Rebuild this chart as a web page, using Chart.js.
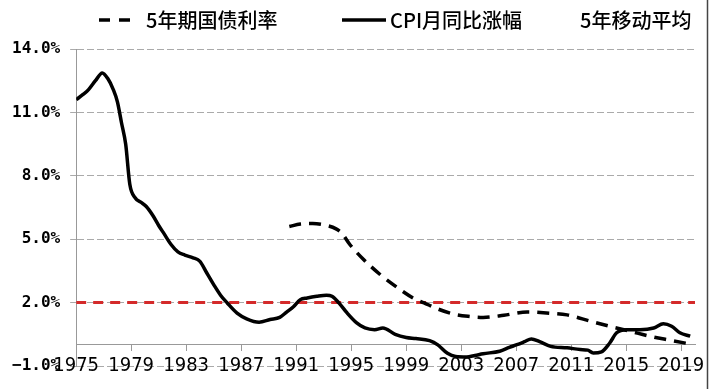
<!DOCTYPE html>
<html lang="zh-CN">
<head>
<meta charset="UTF-8">
<title>CPI与5年期国债利率</title>
<script src="https://cdn.jsdelivr.net/npm/chart.js"></script>
<style>
    body { margin: 0; background: #fff; }
    #wrap { width: 716px; height: 389px; }
</style>
</head>
<body>
<div id="wrap"><canvas id="chart" width="716" height="389"></canvas></div>
<script>
    // 坐标轴刻度
    const xTicks = [1975, 1979, 1983, 1987, 1991, 1995, 1999, 2003, 2007, 2011, 2015, 2019];
    const yTicks = [-1, 2, 5, 8, 11, 14];

    // CPI月同比涨幅 (5年移动平均)
    const cpiYears = [1975.0, 1975.5, 1975.9, 1976.4, 1976.9, 1977.3, 1977.7, 1978.0, 1978.3, 1978.6,
        1978.9, 1979.3, 1979.7, 1980.1, 1980.6, 1981.0, 1981.4, 1981.9, 1982.4, 1982.9,
        1983.5, 1984.0, 1984.5, 1985.0, 1985.5, 1986.0, 1986.7, 1987.4, 1988.3, 1989.1,
        1989.8, 1990.3, 1990.8, 1991.3, 1991.8, 1992.5, 1993.2, 1993.6, 1994.1, 1994.7,
        1995.4, 1996.0, 1996.7, 1997.3, 1998.2, 1999.0, 1999.7, 2000.7, 2001.3, 2002.0,
        2002.6, 2003.4, 2004.0, 2004.6, 2005.8, 2006.5, 2007.05, 2007.6, 2008.1, 2008.7,
        2009.5, 2010.7, 2011.65, 2012.2, 2012.6, 2013.2, 2013.8, 2014.3, 2015.0, 2016.0,
        2017.0, 2017.7, 2018.3, 2018.9, 2019.65];
    const cpiValues = [11.6, 11.85, 12.08, 12.5, 12.87, 12.6, 12.08, 11.5, 10.5, 9.5,
        7.6, 6.95, 6.75, 6.55, 6.1, 5.65, 5.25, 4.75, 4.4, 4.25,
        4.12, 3.95, 3.4, 2.85, 2.35, 1.97, 1.5, 1.23, 1.07, 1.2,
        1.3, 1.55, 1.8, 2.14, 2.22, 2.3, 2.35, 2.3, 1.99, 1.51,
        1.04, 0.8, 0.72, 0.8, 0.5, 0.35, 0.3, 0.2, 0.0, -0.4,
        -0.55, -0.57, -0.5, -0.42, -0.3, -0.12, 0.01, 0.15, 0.28, 0.15,
        -0.07, -0.14, -0.22, -0.25, -0.38, -0.33, 0.09, 0.57, 0.72, 0.72,
        0.8, 1.0, 0.88, 0.57, 0.41];

    // 5年期国债利率 (5年移动平均)
    const bondYears = [1990.5, 1991.3, 1992.2, 1993.2, 1993.9, 1994.3, 1994.9, 1995.9, 1997.1, 1998.3,
        1999.5, 2000.3, 2001.3, 2002.5, 2003.5, 2004.6, 2006.1, 2007.8, 2009.2, 2010.7,
        2012.4, 2013.8, 2015.3, 2016.7, 2018.2, 2019.9];
    const bondValues = [5.6, 5.72, 5.74, 5.65, 5.49, 5.3, 4.75, 4.04, 3.33, 2.74,
        2.22, 1.99, 1.7, 1.45, 1.35, 1.3, 1.4, 1.56, 1.51, 1.42,
        1.12, 0.88, 0.64, 0.41, 0.22, 0.01];

    const targetRate = 2.0;
    const xMin = 1975, xMax = 2020;
    const legendNames = ['5年期国债利率', 'CPI月同比涨幅', '5年移动平均'];

    const toPoints = (xs, ys) => xs.map((x, i) => ({ x: x, y: ys[i] }));

    // 顶部图例 + 右侧边框
    const topLegend = {
        id: 'topLegend',
        afterDraw(chart) {
            const ctx = chart.ctx;
            ctx.save();
            ctx.strokeStyle = '#000';
            ctx.lineWidth = 3.5;
            ctx.setLineDash([11, 9]);
            ctx.beginPath(); ctx.moveTo(99, 20); ctx.lineTo(134, 20); ctx.stroke();
            ctx.setLineDash([]);
            ctx.beginPath(); ctx.moveTo(342, 20); ctx.lineTo(386, 20); ctx.stroke();

            ctx.fillStyle = '#000';
            ctx.font = '500 20px "Noto Sans CJK SC"';
            ctx.textBaseline = 'middle';
            ctx.fillText(legendNames[0], 146, 20);
            ctx.fillText(legendNames[1], 390, 20);
            ctx.fillText(legendNames[2], 580, 20);

            ctx.strokeStyle = '#444';
            ctx.lineWidth = 1.5;
            ctx.beginPath(); ctx.moveTo(707.5, 0); ctx.lineTo(707.5, 389); ctx.stroke();
            ctx.restore();
        }
    };

    new Chart(document.getElementById('chart'), {
        type: 'line',
        data: {
            datasets: [{
                label: legendNames[0],
                data: toPoints(bondYears, bondValues),
                borderColor: '#000',
                borderWidth: 3.5,
                borderDash: [12, 8],
                cubicInterpolationMode: 'monotone',
                pointRadius: 0,
                order: 1
            }, {
                label: legendNames[1],
                data: toPoints(cpiYears, cpiValues),
                borderColor: '#000',
                borderWidth: 3.5,
                cubicInterpolationMode: 'monotone',
                pointRadius: 0,
                order: 0
            }, {
                label: '2%',
                data: [{ x: xMin, y: targetRate }, { x: xMax, y: targetRate }],
                borderColor: '#d42a2a',
                borderWidth: 3,
                borderDash: [10, 7],
                pointRadius: 0,
                order: 2
            }]
        },
        options: {
            responsive: false,
            animation: false,
            devicePixelRatio: 1,
            layout: { padding: { top: 49, left: 2, right: 21, bottom: 23 } },
            plugins: { legend: { display: false }, tooltip: { enabled: false } },
            scales: {
                x: {
                    type: 'linear',
                    min: xMin,
                    max: xMax,
                    position: { y: 0 },
                    afterBuildTicks: s => { s.ticks = xTicks.map(v => ({ value: v })); },
                    ticks: {
                        autoSkip: false,
                        maxRotation: 0,
                        padding: 3,
                        color: '#000',
                        font: { family: '"Liberation Sans Narrow", "DejaVu Sans Condensed", "Liberation Sans"', size: 20 },
                        callback: v => String(v)
                    },
                    grid: { drawOnChartArea: false, tickLength: 6, color: '#999' },
                    border: { color: '#999', width: 1 }
                },
                y: {
                    type: 'linear',
                    min: -1,
                    max: 14,
                    afterBuildTicks: s => { s.ticks = yTicks.map(v => ({ value: v })); },
                    ticks: {
                        padding: 10,
                        color: '#000',
                        font: { family: '"DejaVu Sans Mono"', size: 16, weight: 'bold' },
                        callback: v => v.toFixed(1).replace('-', '−') + '%'
                    },
                    grid: { color: '#aaa', tickLength: 6 },
                    border: { color: '#999', dash: [7, 3] }
                }
            }
        },
        plugins: [topLegend]
    });
</script>
</body>
</html>
